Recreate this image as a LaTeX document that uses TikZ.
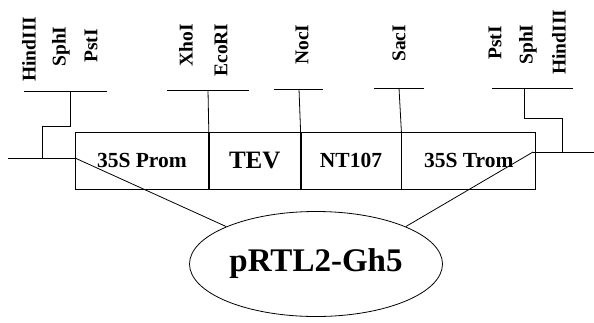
\documentclass[tikz,border=0pt]{standalone}
\usepackage{fontspec}
\setmainfont{Liberation Serif}
\usepackage{tikz}
\usetikzlibrary{positioning,shapes.geometric}

\begin{document}
\begin{tikzpicture}[x=1pt, y=-1pt, line width=0.8pt,
  cell/.style={draw, minimum height=57pt, inner sep=0pt, font=\bfseries\fontsize{21.5}{23}\selectfont},
  site/.style={rotate=90, anchor=west, inner sep=0pt, font=\bfseries\fontsize{19.5}{21}\selectfont}]
\useasboundingbox (0,0) rectangle (594,322);

% expression cassette
\node[cell, minimum width=133pt, anchor=north west] (prom) at (75,132) {35S Prom};
\node[cell, minimum width=91pt, right=0pt of prom, font=\bfseries\fontsize{25}{27}\selectfont] (tev) {TEV};
\node[cell, minimum width=100pt, right=0pt of tev] (nt) {NT107};
\node[cell, minimum width=134pt, right=0pt of nt] (trom) {35S Trom};

% vector
\node[draw, ellipse, minimum width=253pt, minimum height=105pt, inner sep=0pt,
  font=\bfseries\fontsize{33}{36}\selectfont] (vec) at (316,264) {pRTL2-Gh5};

% restriction sites
\node[site] (hindL) at (29,82) {HindIII};
\node[site] (sphL) at (61,67) {SphI};
\node[site] (pstL) at (91,63) {PstI};
\node[site] (xho) at (186,67) {XhoI};
\node[site] (eco) at (221,77) {EcoRI};
\node[site] (noc) at (302,65) {NocI};
\node[site] (sac) at (399,62) {SacI};
\node[site] (pstR) at (495,60) {PstI};
\node[site] (sphR) at (528,65) {SphI};
\node[site] (hindR) at (559,75) {HindIII};

\coordinate (lend) at (8,158);
\coordinate (lj) at (75,158);
\coordinate (hl) at (42,158);
\coordinate (hlt) at (70,91);
\coordinate (rend) at (594,152);
\coordinate (rj) at (533,152);
\coordinate (hr) at (562,152);
\coordinate (hrt) at (524,88);

% left flank
\draw (lend) -- (lj);
\draw (hl) -- ++(0,-32) -| (hlt);
\draw (24,91) -- (107,91);

% inner sites
\draw (167,90) -- (249,90);
\draw (208,90) -- (prom.north east);
\draw (274,89) -- (323,89);
\draw (299,89) -- (nt.north west);
\draw (374,88) -- (424,88);
\draw (399,88) -- (trom.north west);

% right flank
\draw (rj) -- (rend);
\draw (hr) -- ++(0,-34) -| (hrt);
\draw (492,88) -- (573,88);

% to the vector
\draw (lj) -- (vec.north west);
\draw (rj) -- (vec.north east);
\end{tikzpicture}
\end{document}
